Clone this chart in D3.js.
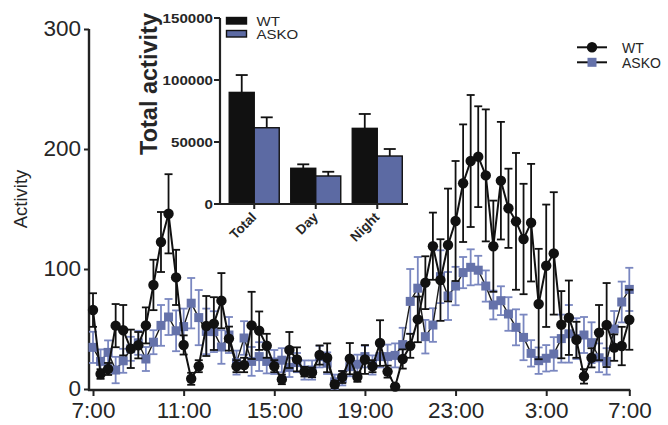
<!DOCTYPE html>
<html><head><meta charset="utf-8">
<script src="https://cdn.jsdelivr.net/npm/d3@7"></script>
<style>
body{margin:0;background:#fff}
svg{display:block}
text{font-family:"Liberation Sans",Arial,Helvetica,sans-serif;fill:#262626}
</style>
</head><body>
<svg id="chart" width="668" height="425"></svg>
<script>
// ---- Data (20-min bins, 7:00 -> 7:00) ----
const wtValues = [65.8,12.5,16.7,52.8,49,33.5,36.5,53,86.7,122.5,146,93,36.7,8.5,19,52.5,54.5,73.6,42,19,20,53,48.6,36,19,8,32.5,24.7,14.4,13.8,28.3,26,3.8,10,25.3,10,24.6,19,38.3,14.5,2,25,36,58,88.6,119,90.8,120,140,171.5,190,193.6,178,119,173.6,150.6,139.7,125,138.6,70.8,102.7,113,53.6,59.4,41,10.5,26,47,53.3,34.5,35.8,57.7];
const wtErrors = [14,4,5,18,21,16,11,15,21,25,33,23,8,5,5,25,22,23,10,5,6,28,16,10,5,4,15,10,4,4,8,12,3,5,13,4,12,5,19,5,2,8,10,19,22,28,34,47,50,49,55,42,55,38,49,33,57,46,49,46,51,51,28,31,15,6,8,23,35,11,16,25];
const askoValues = [34.7,23,30.5,15.8,23.5,33.5,38.5,25,39,53,60,48.5,52,71.5,59.5,48,47.8,35,45,22,42.5,23,27,23,22.5,24,18,22,15.8,15.8,27,21.5,6,9,18.6,20.6,27,20,27,27,28,37,73,84,43.6,53.3,93.6,77.5,85.8,97,101.4,99,85.8,70,73.6,62.5,51.4,43,29.7,23.6,25.6,29.2,42,46,42,45,38.6,26,23,50,72.5,83];
const askoErrors = [13,10,10,11,10,10,10,10,10,17,15,17,15,21,23,19,17,14,15,10,14,12,12,10,10,10,8,8,8,8,9,9,6,6,8,8,9,8,9,10,10,14,27,26,14,14,22,20,16,13,15,12,13,12,12,14,15,19,11,11,11,14,20,24,17,15,17,12,11,15,17,18];
const xTickIndex = [0,12,24,36,48,60,71];
const xTickLabels = ["7:00","11:00","15:00","19:00","23:00","3:00","7:00"];
const yTicks = [0,100,200,300];
const seriesNames = ["WT","ASKO"];

// Inset
const insetCategories = ["Total","Day","Night"];
const insetWT = [90000,28800,61000];
const insetWTErr = [14000,3200,11600];
const insetASKO = [61500,22600,38700];
const insetASKOErr = [8400,3400,5650];
const insetTicks = [0,50000,100000,150000];

const svg = d3.select("#chart");
svg.append("rect").attr("width",668).attr("height",425).attr("fill","#fff");

const BLACK = "#111";
const BLUE = "#6572aa";
const BLUE_ERR = "#7a87c0";
const AXIS = "#222";

const x = d3.scaleLinear().domain([0, wtValues.length - 1]).range([93, 629.3]);
const y = d3.scaleLinear().domain([0, 300]).range([389, 29]);

// ---- Main axes ----
const yAxis = d3.axisLeft(y).tickValues(yTicks).tickSize(5).tickPadding(3).tickSizeOuter(0);
const gy = svg.append("g").attr("transform","translate(89,0)").call(yAxis);
gy.select(".domain").remove();
gy.selectAll(".tick line").attr("stroke",AXIS).attr("stroke-width",2);
gy.selectAll(".tick text").style("font-size","22.5px").attr("dy","0.3em").attr("fill","#262626");
svg.append("line").attr("x1",89).attr("x2",89).attr("y1",y(300)).attr("y2",391)
  .attr("stroke",AXIS).attr("stroke-width",2.4);

const xAxis = d3.axisBottom(x).tickValues(xTickIndex).tickFormat((d,i)=>xTickLabels[i]).tickSize(6).tickPadding(6).tickSizeOuter(0);
const gx = svg.append("g").attr("transform","translate(0,390)").call(xAxis);
gx.select(".domain").remove();
gx.selectAll(".tick line").attr("stroke",AXIS).attr("stroke-width",2);
gx.selectAll(".tick text").style("font-size","22.5px").attr("fill","#262626");
svg.append("line").attr("x1",88).attr("x2",x(wtValues.length-1)+1).attr("y1",390).attr("y2",390)
  .attr("stroke",AXIS).attr("stroke-width",2.4);

svg.append("text").attr("transform","translate(27,199) rotate(-90)")
  .attr("text-anchor","middle").style("font-size","18.5px").text("Activity");

// ---- Series drawing ----
function drawErr(vals, errs, color, width){
  const g = svg.append("g").attr("stroke",color).attr("stroke-width",width).attr("fill","none");
  vals.forEach((v,i)=>{
    const cx = x(i), y1 = y(v+errs[i]), y2 = y(v-errs[i]);
    g.append("line").attr("x1",cx).attr("x2",cx).attr("y1",y1).attr("y2",y2);
    g.append("line").attr("x1",cx-4).attr("x2",cx+4).attr("y1",y1).attr("y2",y1);
    g.append("line").attr("x1",cx-4).attr("x2",cx+4).attr("y1",y2).attr("y2",y2);
  });
}
const line = d3.line().x((d,i)=>x(i)).y(d=>y(d));

// ASKO (behind)
drawErr(askoValues, askoErrors, BLUE_ERR, 1.8);
svg.append("path").datum(askoValues).attr("d",line).attr("fill","none").attr("stroke","#1a1a1a").attr("stroke-width",1.4);
svg.append("g").selectAll("rect").data(askoValues).join("rect")
  .attr("x",(d,i)=>x(i)-4.5).attr("y",d=>y(d)-4.5).attr("width",9).attr("height",9).attr("fill",BLUE);

// WT (front)
drawErr(wtValues, wtErrors, BLACK, 1.8);
svg.append("path").datum(wtValues).attr("d",line).attr("fill","none").attr("stroke",BLACK).attr("stroke-width",2);
svg.append("g").selectAll("circle").data(wtValues).join("circle")
  .attr("cx",(d,i)=>x(i)).attr("cy",d=>y(d)).attr("r",5.2).attr("fill",BLACK);

// ---- Main legend ----
const lg = svg.append("g");
[[47.3,"WT"],[62.3,"ASKO"]].forEach(([ly,name],k)=>{
  lg.append("line").attr("x1",577).attr("x2",607).attr("y1",ly).attr("y2",ly).attr("stroke",BLACK).attr("stroke-width",2);
  if(k===0) lg.append("circle").attr("cx",592).attr("cy",ly).attr("r",5.2).attr("fill",BLACK);
  else lg.append("rect").attr("x",587.5).attr("y",ly-4.5).attr("width",9).attr("height",9).attr("fill",BLUE);
  lg.append("text").attr("x",622).attr("y",ly+5.5).style("font-size","14px").text(seriesNames[k]);
});

// ---- Inset bar chart ----
const xi = d3.scaleBand().domain(insetCategories).range([220, 411.5]).paddingInner(0.187).paddingOuter(0.15);
const xs = d3.scaleBand().domain(seriesNames).range([0, xi.bandwidth()]);
const yi = d3.scaleLinear().domain([0,150000]).range([204, 18]);
const ins = svg.append("g");

const barData = [];
insetCategories.forEach((c,i)=>{
  barData.push({c, s:"WT", v:insetWT[i], e:insetWTErr[i]});
  barData.push({c, s:"ASKO", v:insetASKO[i], e:insetASKOErr[i]});
});
// error bars (upward only)
barData.forEach(d=>{
  const cx = xi(d.c) + xs(d.s) + xs.bandwidth()/2;
  ins.append("line").attr("x1",cx).attr("x2",cx).attr("y1",yi(d.v)).attr("y2",yi(d.v+d.e)).attr("stroke",BLACK).attr("stroke-width",1.8);
  ins.append("line").attr("x1",cx-6).attr("x2",cx+6).attr("y1",yi(d.v+d.e)).attr("y2",yi(d.v+d.e)).attr("stroke",BLACK).attr("stroke-width",1.8);
});
ins.selectAll("rect.bar").data(barData).join("rect").attr("class","bar")
  .attr("x",d=>xi(d.c)+xs(d.s)).attr("y",d=>yi(d.v))
  .attr("width",xs.bandwidth()).attr("height",d=>yi(0)-yi(d.v))
  .attr("fill",d=>d.s==="WT"?BLACK:"#5c6aa3").attr("stroke",BLACK).attr("stroke-width",1.4);

// inset axes
ins.append("line").attr("x1",220).attr("x2",220).attr("y1",yi(150000)).attr("y2",205).attr("stroke",AXIS).attr("stroke-width",2.2);
ins.append("line").attr("x1",219).attr("x2",408).attr("y1",204).attr("y2",204).attr("stroke",AXIS).attr("stroke-width",2.2);
insetTicks.forEach(t=>{
  ins.append("line").attr("x1",214).attr("x2",220).attr("y1",yi(t)).attr("y2",yi(t)).attr("stroke",AXIS).attr("stroke-width",2);
  ins.append("g").attr("transform",`translate(213,${yi(t)+4.5}) scale(1.2,1)`)
    .append("text").attr("text-anchor","end").style("font-size","12.6px").style("font-weight","bold").text(t);
});
insetCategories.forEach(c=>{
  const cx = xi(c) + xi.bandwidth()/2;
  ins.append("line").attr("x1",cx).attr("x2",cx).attr("y1",204).attr("y2",209).attr("stroke",AXIS).attr("stroke-width",2);
  ins.append("text").attr("transform",`translate(${cx+3},${218}) rotate(-45)`)
    .attr("text-anchor","end").style("font-size","13.5px").style("font-weight","bold").text(c);
});
ins.append("text").attr("transform","translate(157,84) rotate(-90)")
  .attr("text-anchor","middle").style("font-size","23.5px").style("font-weight","bold").text("Total activity");

// inset legend
[[17.5,"WT",BLACK],[30.5,"ASKO","#5c6aa3"]].forEach(([ly,name,col])=>{
  ins.append("rect").attr("x",226.5).attr("y",ly).attr("width",20).attr("height",6.5).attr("fill",col).attr("stroke",BLACK).attr("stroke-width",1.4);
  ins.append("g").attr("transform",`translate(256.5,${ly+8.2}) scale(1.25,1)`)
    .append("text").style("font-size","12px").text(name);
});
</script>
</body></html>
